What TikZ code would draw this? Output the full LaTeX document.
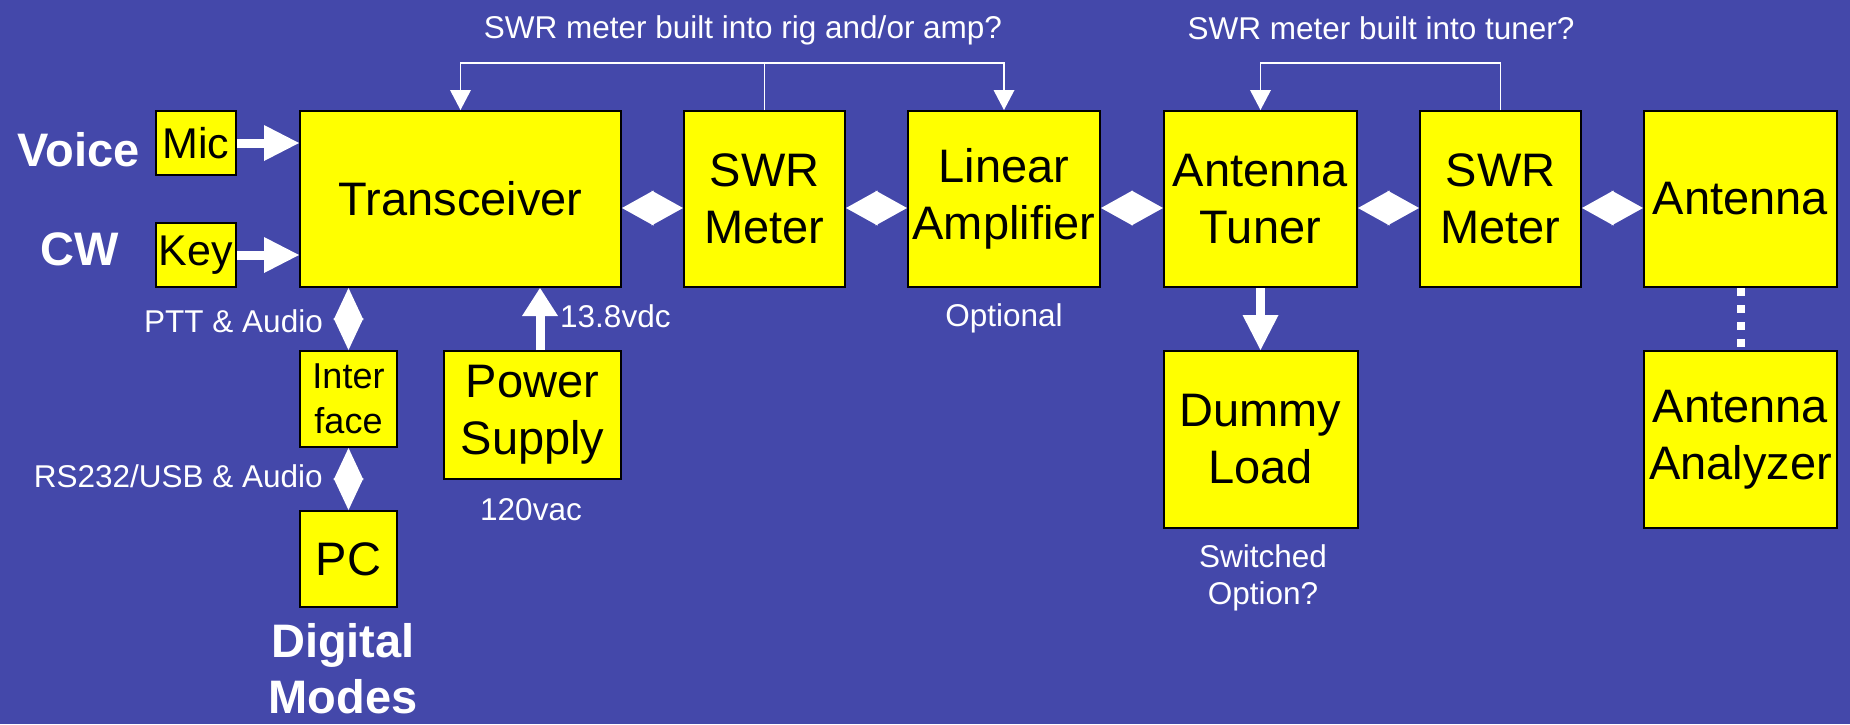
\documentclass[tikz,border=0pt]{standalone}
\usepackage{fontspec}
\setmainfont{Liberation Sans}
\usetikzlibrary{arrows.meta,calc}
\definecolor{bg}{RGB}{68,72,170}
\definecolor{boxy}{RGB}{255,255,0}
\begin{document}
\begin{tikzpicture}[x=1pt,y=-1pt,
  box/.style={draw=black, line width=2pt, fill=boxy, inner sep=0pt, align=center, text=black,
              font=\fontsize{47}{57}\selectfont},
  smallbox/.style={box, font=\fontsize{43}{50}\selectfont},
  ifbox/.style={box, font=\fontsize{36}{45}\selectfont},
  lbl/.style={text=white, inner sep=0pt, font=\fontsize{31.5}{38}\selectfont},
  biglbl/.style={text=white, inner sep=0pt, font=\bfseries\fontsize{47}{56}\selectfont},
  blk/.style={draw=white, line width=9pt, -{Triangle[length=35pt,width=36pt,line width=0pt]}},
  pwr/.style={draw=white, line width=9pt, -{Triangle[length=28pt,width=36pt,line width=0pt]}},
  dblh/.style={draw=white, line width=1pt,
     {Triangle[length=31.5pt,width=35pt,line width=0pt]}-{Triangle[length=31.5pt,width=35pt,line width=0pt]}},
  dblv/.style={draw=white, line width=1pt,
     {Triangle[length=32pt,width=30pt,line width=0pt]}-{Triangle[length=32pt,width=30pt,line width=0pt]}},
  fb/.style={draw=white, line width=1.5pt},
  fbtip/.style={-{Triangle[length=20pt,width=21pt,line width=0pt]}},
  dots/.style={draw=white, line width=8pt, dash pattern=on 8pt off 9pt}
]
% background
\fill[bg] (0,0) rectangle (1850,724);
\useasboundingbox (0,0) rectangle (1850,724);

% helper coordinates
\coordinate (topA) at (0,63);
\coordinate (rowA) at (0,208);
\coordinate (pwrx) at (540,0);

% boxes
\node[smallbox, minimum width=80, minimum height=64] (mic) at (196,143) {Mic};
\node[smallbox, minimum width=80, minimum height=64] (key) at (196,255) {Key};
\node[box, minimum width=321, minimum height=176] (trx) at (460.5,199) {Transceiver};
\node[box, minimum width=161, minimum height=176] (swr1) at (764.5,199) {SWR\\Meter};
\node[box, minimum width=192, minimum height=176] (amp) at (1004,199) {Linear\\Amplifier};
\node[box, minimum width=193, minimum height=176] (tuner) at (1260.5,199) {Antenna\\Tuner};
\node[box, minimum width=161, minimum height=176] (swr2) at (1500.5,199) {SWR\\Meter};
\node[box, minimum width=193, minimum height=176] (ant) at (1740.5,199) {Antenna};
\node[ifbox, minimum width=97, minimum height=96] (iface) at (348.5,399) {Inter\\face};
\node[box, minimum width=97, minimum height=96] (pc) at (348.5,559) {PC};
\node[box, minimum width=177, minimum height=128] (psu) at (532.5,415) {Power\\Supply};
\node[box, minimum width=194, minimum height=177] (dummy) at (1260.5,439.5) {Dummy\\Load};
\node[box, minimum width=193, minimum height=177] (analyzer) at (1740.5,439.5) {Antenna\\Analyzer};

% block arrows
\draw[blk] (mic.east) -- (trx.west |- mic.east);
\draw[blk] (key.east) -- (trx.west |- key.east);
\draw[blk] (tuner.south) -- (dummy.north);
\draw[pwr] (psu.north -| pwrx) -- (trx.south -| pwrx);

% double arrows
\draw[dblh] (trx.east |- rowA) -- (swr1.west |- rowA);
\draw[dblh] (swr1.east |- rowA) -- (amp.west |- rowA);
\draw[dblh] (amp.east |- rowA) -- (tuner.west |- rowA);
\draw[dblh] (tuner.east |- rowA) -- (swr2.west |- rowA);
\draw[dblh] (swr2.east |- rowA) -- (ant.west |- rowA);
\draw[dblv] (trx.south -| iface.north) -- (iface.north);
\draw[dblv] (iface.south) -- (pc.north);

% dotted link
\draw[dots] (ant.south) -- (analyzer.north);

% feedback lines
\draw[fb] (swr1.north) -- (swr1.north |- topA);
\draw[fb, fbtip] (swr1.north |- topA) -| (trx.north);
\draw[fb, fbtip] (swr1.north |- topA) -| (amp.north);
\draw[fb, fbtip] (swr2.north) |- (tuner.north |- topA) -- (tuner.north);

% labels
\node[lbl, anchor=base] (l1) at (743,38) {SWR meter built into rig and/or amp?};
\node[lbl, anchor=base] (l2) at (1381,39) {SWR meter built into tuner?};
\node[biglbl, anchor=base] (voice) at (78.5,166) {Voice};
\node[biglbl, anchor=base] (cw) at (80,265) {CW};
\node[lbl, anchor=base east] (ptt) at (323,332) {PTT \& Audio};
\node[lbl, anchor=base east] (rs) at (323,487) {RS232/USB \& Audio};
\node[lbl, anchor=base west] (vdc) at (560,327) {13.8vdc};
\node[lbl, anchor=base] (vac) at (531,520) {120vac};
\node[lbl, anchor=base] (opt) at (1004,326) {Optional};
\node[lbl, anchor=base] (sw1) at (1263,567) {Switched};
\node[lbl, anchor=base] (sw2) at (1263,604) {Option?};
\node[biglbl, anchor=base] (dig1) at (343,657) {Digital};
\node[biglbl, anchor=base] (dig2) at (343,713) {Modes};
\end{tikzpicture}
\end{document}
